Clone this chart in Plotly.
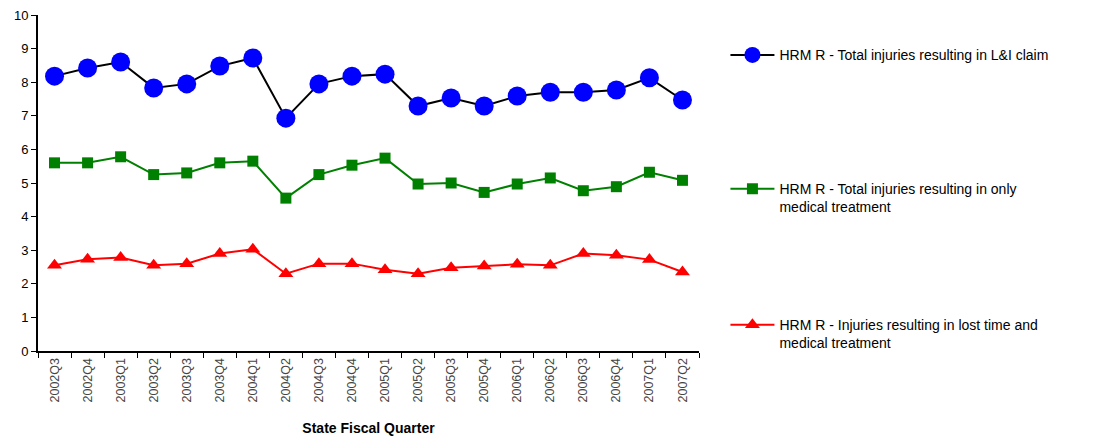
import plotly.graph_objects as go

quarters = ["2002Q3", "2002Q4", "2003Q1", "2003Q2", "2003Q3", "2003Q4", "2004Q1", "2004Q2",
            "2004Q3", "2004Q4", "2005Q1", "2005Q2", "2005Q3", "2005Q4", "2006Q1", "2006Q2",
            "2006Q3", "2006Q4", "2007Q1", "2007Q2"]

total_li_claim = [8.18, 8.42, 8.60, 7.83, 7.95, 8.48, 8.72, 6.93, 7.95, 8.18,
                  8.24, 7.29, 7.53, 7.29, 7.59, 7.70, 7.70, 7.77, 8.13, 7.47]

medical_only = [5.60, 5.60, 5.78, 5.25, 5.30, 5.60, 5.65, 4.55, 5.25, 5.53,
                5.74, 4.97, 5.00, 4.72, 4.97, 5.15, 4.77, 4.89, 5.32, 5.08]

lost_time_medical = [2.55, 2.73, 2.78, 2.55, 2.60, 2.90, 3.03, 2.30, 2.60, 2.60,
                     2.42, 2.30, 2.48, 2.53, 2.58, 2.55, 2.90, 2.85, 2.72, 2.35]

series_names = [
    "HRM R - Total injuries resulting in L&I claim",
    "HRM R - Total injuries resulting in only<br>medical treatment",
    "HRM R - Injuries resulting in lost time and<br>medical treatment",
]

FONT = "Liberation Sans, Arial, sans-serif"

fig = go.Figure()
fig.add_trace(go.Scatter(
    x=quarters, y=total_li_claim, name=series_names[0], mode="lines+markers",
    line=dict(color="black", width=2),
    marker=dict(symbol="circle", size=19, color="#0000ff"),
    legend="legend", showlegend=True,
))
fig.add_trace(go.Scatter(
    x=quarters, y=medical_only, name=series_names[1], mode="lines+markers",
    line=dict(color="#008000", width=2),
    marker=dict(symbol="square", size=11, color="#008000"),
    legend="legend2", showlegend=True,
))
fig.add_trace(go.Scatter(
    x=quarters, y=lost_time_medical, name=series_names[2], mode="lines+markers",
    line=dict(color="#ff0000", width=2),
    marker=dict(symbol="triangle-up", size=13, color="#ff0000"),
    legend="legend3", showlegend=True,
))

legend_common = dict(
    xanchor="left", yanchor="middle", valign="top",
    font=dict(family=FONT, size=14, color="black"),
    bgcolor="rgba(0,0,0,0)", itemwidth=44,
)

fig.update_layout(
    width=1096, height=439,
    margin=dict(l=38, r=397, t=15, b=88),
    paper_bgcolor="white", plot_bgcolor="white",
    font=dict(family=FONT, color="black"),
    showlegend=True,
    xaxis=dict(
        type="category", tickson="boundaries", ticks="outside", ticklen=5,
        tickcolor="black", showline=True, linecolor="black", linewidth=2,
        tickangle=-90, tickfont=dict(size=12.5, color="#444444"),
        showgrid=False, range=[-0.5, 19.5], automargin=False,
        title=dict(text="<b>State Fiscal Quarter</b>", font=dict(size=14, family=FONT), standoff=22),
    ),
    yaxis=dict(
        range=[0, 10], dtick=1, ticks="outside", ticklen=5, tickcolor="black",
        showline=True, linecolor="black", linewidth=2, showgrid=False,
        zeroline=False, tickfont=dict(size=13, color="black"), automargin=False,
    ),
    legend=dict(x=1.04, y=0.88, **legend_common),
    legend2=dict(x=1.04, y=0.455, **legend_common),
    legend3=dict(x=1.04, y=0.05, **legend_common),
)

fig.write_html("out.html")
